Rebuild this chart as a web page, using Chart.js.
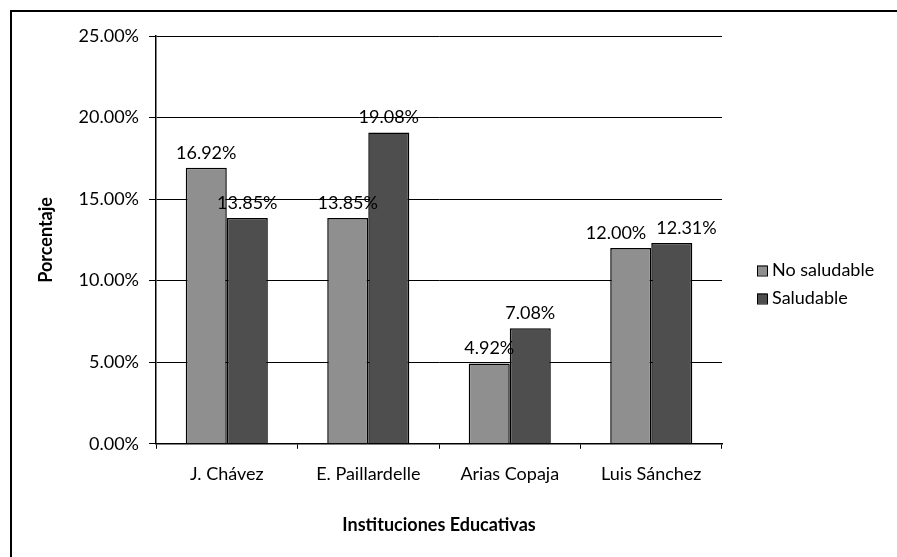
<!DOCTYPE html>
<html>
<head>
<meta charset="utf-8">
<script src="https://cdn.jsdelivr.net/npm/chart.js@4/dist/chart.umd.min.js"></script>
<style>
  html, body { margin: 0; padding: 0; background: #fff; }
  #box {
    position: absolute; left: 10px; top: 10px;
    width: 885px; height: 545px;
    border-left: 2px solid #000; border-top: 2px solid #000;
  }
</style>
</head>
<body>
<div id="box"><canvas id="chart"></canvas></div>
<script>
const categories = ['J. Chávez', 'E. Paillardelle', 'Arias Copaja', 'Luis Sánchez'];
const noSaludable = [16.92, 13.85, 4.92, 12.00];
const saludable = [13.85, 19.08, 7.08, 12.31];
const yTicks = [0, 5, 10, 15, 20, 25];

const FONT = 'Lato, Carlito, Calibri, sans-serif';
const fills = ['#8f8f8f', '#4e4e4e'];

// value labels above the bars; push the two labels of a group apart when they would overlap
const barLabels = {
  id: 'barLabels',
  afterDatasetsDraw(chart) {
    const ctx = chart.ctx;
    ctx.save();
    ctx.font = '18px ' + FONT;
    ctx.fillStyle = '#000';
    ctx.textAlign = 'center';
    ctx.textBaseline = 'middle';
    const m0 = chart.getDatasetMeta(0).data;
    const m1 = chart.getDatasetMeta(1).data;
    const d0 = chart.data.datasets[0].data;
    const d1 = chart.data.datasets[1].data;
    m0.forEach((b0, j) => {
      const b1 = m1[j];
      const t0 = d0[j].toFixed(2) + '%';
      const t1 = d1[j].toFixed(2) + '%';
      let x0 = b0.x, x1 = b1.x;
      const y0 = b0.y - 15, y1 = b1.y - 15;
      if (Math.abs(y0 - y1) < 20) {
        const need = (ctx.measureText(t0).width + ctx.measureText(t1).width) / 2 + 10;
        const extra = Math.max(0, need - (x1 - x0)) / 2;
        x0 -= extra; x1 += extra;
      }
      ctx.fillText(t0, x0, y0);
      ctx.fillText(t1, x1, y1);
    });
    ctx.restore();
  }
};

// legend to the right of the plot, as in the Excel chart
const sideLegend = {
  id: 'sideLegend',
  afterDraw(chart) {
    const ctx = chart.ctx;
    const x = chart.chartArea.right + 35;
    const yc = chart.height / 2;
    ctx.save();
    ctx.font = '18px ' + FONT;
    ctx.textBaseline = 'middle';
    chart.data.datasets.forEach((ds, i) => {
      const y = yc - 14 + i * 28;
      ctx.fillStyle = fills[i];
      ctx.fillRect(x, y - 5, 10, 10);
      ctx.strokeStyle = '#000';
      ctx.lineWidth = 1;
      ctx.strokeRect(x + 0.5, y - 4.5, 10, 10);
      ctx.fillStyle = '#000';
      ctx.fillText(ds.label, x + 15, y);
    });
    ctx.restore();
  }
};

new Chart(document.getElementById('chart'), {
  type: 'bar',
  data: {
    labels: categories,
    datasets: [
      {
        label: 'No saludable',
        data: noSaludable,
        backgroundColor: fills[0],
        borderColor: '#000',
        borderWidth: 1.5,
      },
      {
        label: 'Saludable',
        data: saludable,
        backgroundColor: fills[1],
        borderColor: '#000',
        borderWidth: 1.5,
      },
    ],
  },
  options: {
    responsive: true,
    maintainAspectRatio: false,
    animation: false,
    layout: { padding: { top: 24, left: 19, right: 175, bottom: 17 } },
    datasets: { bar: { categoryPercentage: 0.58, barPercentage: 1.0 } },
    plugins: {
      legend: { display: false },
      tooltip: { enabled: false },
    },
    scales: {
      x: {
        offset: true,
        grid: { display: true, drawOnChartArea: false, color: '#000', tickLength: 5 },
        border: { color: '#000', width: 1.5 },
        ticks: { color: '#000', font: { family: FONT, size: 18 }, padding: 15, maxRotation: 0 },
        title: {
          display: true,
          text: 'Instituciones Educativas',
          color: '#000',
          font: { family: FONT, size: 18, weight: 'bold' },
          padding: { top: 14 },
        },
      },
      y: {
        min: 0,
        max: 25,
        afterBuildTicks(axis) { axis.ticks = yTicks.map(v => ({ value: v })); },
        grid: { color: '#000', lineWidth: 1, tickLength: 7 },
        border: { color: '#000', width: 1.5 },
        ticks: {
          color: '#000',
          font: { family: FONT, size: 18 },
          padding: 10,
          callback: v => v.toFixed(2) + '%',
        },
        title: {
          display: true,
          text: 'Porcentaje',
          color: '#000',
          font: { family: FONT, size: 18, weight: 'bold' },
          padding: { bottom: 12 },
        },
      },
    },
  },
  plugins: [barLabels, sideLegend],
});
</script>
</body>
</html>
